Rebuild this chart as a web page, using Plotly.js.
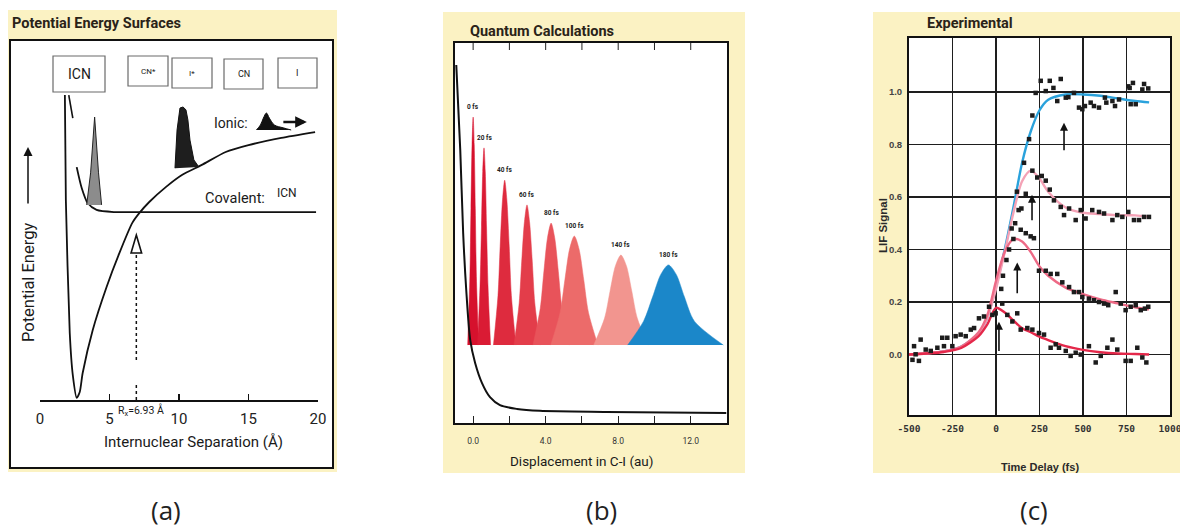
<!DOCTYPE html>
<html><head><meta charset="utf-8">
<script src="https://cdn.plot.ly/plotly-3.0.1.min.js"></script>
<style>html,body{margin:0;padding:0;background:#fff}#chart{width:1180px;height:527px}</style>
</head><body><div id="chart"></div>
<script>
// ===== Panel (a): potential energy surfaces (R in Å, E arbitrary units) =====
const ionicR = [1.79,1.86,2.14,2.36,2.64,2.86,3.07,3.79,4.79,5.71,6.64,7.14,7.86,9.07,10.21,11.64,13.36,15.0,17.36,19.79];
const ionicE = [8.47,5.56,1.86,0.69,0.06,0.22,0.75,1.94,3.14,4.08,4.92,5.19,5.50,5.92,6.25,6.53,6.89,7.08,7.28,7.44];
const covTopR = [2.07,2.36];
const covTopE = [8.47,7.83];
const covR = [2.64,3.0,3.43,4.07,5.36,7.14,11.43,19.86];
const covE = [6.47,5.89,5.47,5.28,5.22,5.22,5.22,5.22];
const groundPacketR = [3.36,3.64,3.93,4.21,4.43];
const groundPacketE = [5.42,6.31,7.86,6.31,5.42];
const excitedPacketR = [9.71,9.86,10.07,10.29,10.5,10.64,10.79,11.07,11.43];
const excitedPacketE = [6.44,7.5,8.11,8.14,8.06,7.78,7.22,6.67,6.47];
const ionicIconR = [15.57,15.86,16.07,16.29,16.5,16.86,17.5,18.07];
const ionicIconE = [7.5,7.64,7.83,7.97,7.83,7.64,7.56,7.5];
const Rx = 6.93;
const xTicksA = [0,5,10,15,20];
const productLabels = ["ICN","CN*","I*","CN","I"];

// ===== Panel (b): quantum wavepackets (displacement in au) =====
const packetTimes = [0,20,40,60,80,100,140,180];
const packetX = [
  [-0.30,-0.18,-0.12,-0.06,0.00,0.06,0.12,0.18,0.30],
  [0.24,0.38,0.46,0.53,0.60,0.67,0.74,0.82,0.96],
  [1.12,1.37,1.49,1.62,1.74,1.86,1.99,2.11,2.36],
  [2.25,2.54,2.68,2.83,2.97,3.11,3.26,3.40,3.69],
  [3.30,3.70,3.90,4.10,4.30,4.50,4.70,4.90,5.30],
  [4.28,4.80,5.06,5.32,5.58,5.84,6.10,6.36,6.88],
  [6.65,7.25,7.55,7.85,8.15,8.45,8.75,9.05,9.65],
  [8.52,9.40,9.90,10.35,10.77,11.20,11.65,12.20,13.80]
];
const packetY = [
  [2.05,3.85,5.65,7.33,8.05,7.33,5.65,3.85,2.05],
  [2.05,3.61,5.16,6.62,7.24,6.62,5.16,3.61,2.05],
  [2.05,3.35,4.65,5.87,6.39,5.87,4.65,3.35,2.05],
  [2.05,3.16,4.26,5.30,5.74,5.30,4.26,3.16,2.05],
  [2.05,3.01,3.98,4.87,5.26,4.87,3.98,3.01,2.05],
  [2.05,2.91,3.77,4.58,4.92,4.58,3.77,2.91,2.05],
  [2.05,2.76,3.47,4.14,4.42,4.14,3.47,2.76,2.05],
  [2.05,2.68,3.32,3.91,4.16,3.91,3.32,2.68,2.05]
];
const potB_x = [-0.93,-0.71,-0.55,-0.38,-0.16,0.11,0.49,0.93,1.48,2.42,3.68,7.36,13.96];
const potB_y = [9.42,7.18,5.0,3.5,2.18,1.58,1.05,0.68,0.47,0.37,0.32,0.29,0.26];
const xTicksB = [0,2,4,6,8,10,12];

// ===== Panel (c): experimental LIF transients (fs) =====
const fitT = [-500,-400,-300,-200,-100,-50,0,50,100,150,200,250,300,400,500,600,700,800,880];
const fit1 = [0.0,0.005,0.012,0.03,0.08,0.14,0.26,0.40,0.56,0.73,0.85,0.93,0.97,0.99,0.99,0.985,0.975,0.965,0.96];
const fit2 = [0.0,0.005,0.012,0.03,0.08,0.14,0.25,0.39,0.54,0.66,0.70,0.67,0.62,0.56,0.54,0.535,0.53,0.53,0.525];
const fit3 = [0.0,0.005,0.012,0.03,0.085,0.15,0.28,0.39,0.44,0.43,0.39,0.335,0.30,0.255,0.23,0.21,0.195,0.18,0.172];
const fit4 = [0.0,0.004,0.01,0.025,0.07,0.115,0.178,0.16,0.13,0.10,0.085,0.068,0.055,0.032,0.018,0.009,0.004,0.002,0.0];
const s1T = [30,60,90,120,161,190,209,228,257,286,309,330,352,372,401,416,448,477,496,511,544,563,592,626,634,669,684,707,760,768,774,787,803,841,851,875];
const s1V = [0.25,0.36,0.48,0.62,0.73,0.82,0.91,0.996,1.042,1.003,1.042,1.015,0.965,1.049,0.978,0.98,0.996,0.94,0.934,0.946,0.959,0.946,0.94,0.978,0.959,0.965,0.946,0.971,1.021,1.015,0.953,1.034,0.953,1.009,1.03,1.013];
const s2T = [110,130,146,171,209,237,263,286,309,333,372,391,420,458,487,515,553,592,621,669,697,726,760,793,822,851,879];
const s2V = [0.50,0.55,0.556,0.612,0.70,0.674,0.68,0.662,0.628,0.587,0.562,0.531,0.556,0.512,0.55,0.518,0.55,0.543,0.537,0.512,0.531,0.524,0.543,0.512,0.512,0.524,0.524];
const s3T = [40,75,100,142,171,199,218,247,286,314,352,381,420,448,477,496,534,563,592,621,645,688,717,745,774,803,832,856,875];
const s3V = [0.30,0.40,0.44,0.475,0.462,0.45,0.443,0.319,0.319,0.307,0.307,0.275,0.257,0.238,0.238,0.219,0.213,0.207,0.2,0.194,0.188,0.238,0.194,0.169,0.182,0.188,0.169,0.175,0.182];
const s4T = [-480,-471,-462,-443,-433,-404,-375,-337,-309,-299,-280,-251,-232,-203,-174,-145,-126,-98,-69,-40,-21,-2,36,65,94,122,142,180,209,247,276,314,343,362,401,429,458,487,534,573,602,640,669,697,745,774,812,841,864];
const s4V = [-0.02,0.032,0.001,-0.024,0.057,0.019,0.014,0.026,0.064,0.032,0.064,0.032,0.07,0.076,0.07,0.095,0.101,0.138,0.145,0.182,0.151,0.157,0.194,0.151,0.126,0.157,0.095,0.101,0.095,0.082,0.076,0.026,0.039,0.026,0.014,-0.005,0.007,0.0,0.032,-0.03,-0.005,0.026,0.057,0.019,-0.024,-0.024,0.026,-0.011,-0.03];
const arrowT = [391,207,122,17];
const arrowFrom = [0.772,0.506,0.228,0.008];
const arrowTo = [0.882,0.608,0.35,0.125];
const xTicksC = [-500,-250,0,250,500,750,1000];
const yTicksC = [0,0.2,0.4,0.6,0.8,1.0];

// ===== styling helpers =====
const W = 1180, H = 527;
const px = v => v / W, py = v => 1 - v / H;
const NARROW = "Roboto,'Liberation Sans',sans-serif";
const SANS = "'Liberation Sans',Arial,sans-serif";
const YEL = '#fbf2c3';
const packetColors = ['#d6112d','#da1b34','#de2b3e','#e33d4a','#e8535a','#ec6b6a','#f2958f','#1b87c9'];

const traces = [];
// panel (a)
traces.push({x: ionicR, y: ionicE, xaxis:'x', yaxis:'y', mode:'lines', line:{color:'#111', width:1.8, shape:'spline', smoothing:0.6}, hoverinfo:'skip'});
traces.push({x: covTopR, y: covTopE, xaxis:'x', yaxis:'y', mode:'lines', line:{color:'#111', width:1.6}, hoverinfo:'skip'});
traces.push({x: covR, y: covE, xaxis:'x', yaxis:'y', mode:'lines', line:{color:'#111', width:1.8, shape:'spline', smoothing:0.7}, hoverinfo:'skip'});
traces.push({x: groundPacketR, y: groundPacketE, xaxis:'x', yaxis:'y', mode:'lines', fill:'toself', fillcolor:'#8c8c8c', line:{color:'#222', width:1}, hoverinfo:'skip'});
traces.push({x: excitedPacketR, y: excitedPacketE, xaxis:'x', yaxis:'y', mode:'lines', fill:'toself', fillcolor:'#1e1e1e', line:{color:'#111', width:1}, hoverinfo:'skip'});
traces.push({x: ionicIconR, y: ionicIconE, xaxis:'x', yaxis:'y', mode:'lines', fill:'toself', fillcolor:'#111', line:{color:'#111', width:1, shape:'spline'}, hoverinfo:'skip'});
// panel (b)
for (let i = 0; i < packetTimes.length; i++) {
  traces.push({x: packetX[i], y: packetY[i], xaxis:'x2', yaxis:'y2', mode:'lines', fill:'toself',
    fillcolor: packetColors[i], line:{color: packetColors[i], width:0.5, shape:'spline', smoothing:0.8}, hoverinfo:'skip'});
}
traces.push({x: potB_x, y: potB_y, xaxis:'x2', yaxis:'y2', mode:'lines', line:{color:'#111', width:2, shape:'spline', smoothing:0.8}, hoverinfo:'skip'});
// panel (c)
const fitColors = ['#2aa2dc','#f4a2b6','#ee6a86','#e4284a'];
[fit1, fit2, fit3, fit4].forEach((f, i) => {
  traces.push({x: fitT, y: f, xaxis:'x3', yaxis:'y3', mode:'lines', line:{color: fitColors[i], width:2.4, shape:'spline', smoothing:0.8}, hoverinfo:'skip'});
});
[[s1T,s1V],[s2T,s2V],[s3T,s3V],[s4T,s4V]].forEach(([t, v]) => {
  traces.push({x: t, y: v, xaxis:'x3', yaxis:'y3', mode:'markers', marker:{symbol:'square', size:4.5, color:'#1c1c1c'}, hoverinfo:'skip'});
});

// ===== shapes =====
const shapes = [];
const rectPx = (x0, y0, x1, y1, fill, lc, lw) => ({type:'rect', xref:'paper', yref:'paper', x0:px(x0), x1:px(x1), y0:py(y1), y1:py(y0), fillcolor:fill, line:{color:lc, width:lw}, layer:'below'});
shapes.push(rectPx(8,10,337,472, YEL, YEL, 0));
shapes.push(rectPx(443,12,745,473, YEL, YEL, 0));
shapes.push(rectPx(873,12,1180,473, YEL, YEL, 0));
shapes.push(rectPx(10,40,333,468, '#fff', '#111', 2));
shapes.push(rectPx(455,43,727,423, '#fff', '#111', 0));
shapes.push(rectPx(909,38,1170,415, '#fff', '#111', 0));
// product label boxes
const boxPx = [[53,56,105,92],[128,56,168,86],[172,58,212,88],[224,59,263,89],[278,58,317,88]];
boxPx.forEach(b => shapes.push(rectPx(b[0], b[1], b[2], b[3], '#fff', '#6a6a6a', 1.2)));
// top mirrored tick marks of panel (b)
xTicksB.forEach(v => shapes.push({type:'line', xref:'x2', yref:'paper', x0:v, x1:v, y0:py(43), y1:py(50), line:{color:'#222', width:1}, layer:'above'}));
// crossing point marker (dotted drop line + hollow arrow head)
shapes.push({type:'line', xref:'x', yref:'y', x0:Rx, x1:Rx, y0:(400-360)/36, y1:(400-253)/36, line:{color:'#111', width:1.5, dash:'dot'}, layer:'above'});
shapes.push({type:'line', xref:'x', yref:'y', x0:Rx, x1:Rx, y0:0, y1:(400-382)/36, line:{color:'#111', width:1.5, dash:'dot'}, layer:'above'});
shapes.push({type:'path', xref:'x', yref:'y', path:`M ${Rx},${(400-235)/36} L ${Rx+0.38},${(400-253)/36} L ${Rx-0.38},${(400-253)/36} Z`, fillcolor:'#fff', line:{color:'#111', width:1.6}, layer:'above'});

// ===== annotations =====
const ann = [];
const txt = (x, y, text, size, opts={}) => Object.assign({xref:'paper', yref:'paper', x:px(x), y:py(y), text, showarrow:false,
  font:{family: NARROW, size, color:'#1a1a1a'}, xanchor:'center', yanchor:'middle'}, opts);
// titles
const TF = {family:NARROW, size:14.5, color:'#2a2318', weight:'bold'};
ann.push(txt(10, 24, '<b>Potential Energy Surfaces</b>', 14, {xanchor:'left', font:TF}));
ann.push(txt(468, 31, '<b>Quantum Calculations</b>', 14, {xanchor:'left', font:TF}));
ann.push(txt(925, 23, '<b>Experimental</b>', 14, {xanchor:'left', font:TF}));
// panel (a) texts
const labelPos = [[79,74,14],[148,71,8],[192,73,8],[244,74,9],[297,73,9]];
productLabels.forEach((s, i) => ann.push(txt(labelPos[i][0], labelPos[i][1], s, labelPos[i][2])));
ann.push(txt(231, 123, 'Ionic:', 14));
ann.push(txt(235, 198, 'Covalent:', 14.5));
ann.push(txt(287, 193, 'ICN', 12));
ann.push(txt(193, 442, 'Internuclear Separation (Å)', 15));
ann.push(txt(28, 283, 'Potential Energy', 16.5, {textangle:-90}));
ann.push(txt(141, 410, 'R<sub>x</sub>=6.93 Å', 10.5));
ann.push({xref:'paper', yref:'paper', x:px(28), y:py(147), ax:0, ay:58, showarrow:true, arrowhead:2, arrowsize:1.2, arrowwidth:1.5, arrowcolor:'#111', text:''});
ann.push({xref:'x', yref:'y', x:19.2, y:(400-122)/36, axref:'x', ayref:'y', ax:17.4, ay:(400-122)/36, showarrow:true, arrowhead:2, arrowsize:0.9, arrowwidth:2.6, arrowcolor:'#111', text:''});
// panel (b) texts
packetTimes.forEach((t, i) => ann.push({xref:'x2', yref:'y2', x: packetX[i][4], y: packetY[i][4], yshift:10, text:'<b>'+t+' fs</b>', showarrow:false,
  font:{family:NARROW, size:6.5, color:'#222'}}));
ann.push(txt(582, 461, 'Displacement in C-I (au)', 13.5));
// panel (c) texts
ann.push(txt(883, 226, '<b>LIF Signal</b>', 12, {textangle:-90, font:{family:SANS, size:11.5, color:'#2a2a2a'}}));
ann.push(txt(1040, 467, '<b>Time Delay (fs)</b>', 12, {font:{family:SANS, size:11, color:'#2a2a2a'}}));
arrowT.forEach((t, i) => ann.push({xref:'x3', yref:'y3', axref:'x3', ayref:'y3', x:t, y:arrowTo[i], ax:t, ay:arrowFrom[i],
  showarrow:true, arrowhead:2, arrowsize:1, arrowwidth:1.6, arrowcolor:'#111', text:''}));
// panel captions
['(a)','(b)','(c)'].forEach((s, i) => ann.push(txt([166,601,1034][i], 510, s, 26, {font:{family:"'Open Sans',sans-serif", size:26, color:'#222'}})));

const layout = {
  width: W, height: H, margin:{l:0, r:0, t:0, b:0},
  paper_bgcolor:'#fff', plot_bgcolor:'rgba(0,0,0,0)', showlegend:false,
  xaxis: {domain:[px(40), px(318)], range:[0,20], anchor:'y', showline:true, linecolor:'#111', linewidth:1.8,
    ticks:'inside', ticklen:6, tickwidth:1.5, tickcolor:'#111', tickvals:xTicksA, showgrid:false, zeroline:false,
    tickfont:{family:NARROW, size:15, color:'#222'}, ticklabelstandoff:4},
  yaxis: {domain:[py(400), py(40)], range:[0,10], anchor:'x', visible:false},
  xaxis2: {domain:[px(455), px(727)], range:[-1,14], anchor:'y2', showline:true, mirror:true, linecolor:'#111', linewidth:2,
    tickmode:'linear', tick0:0, dtick:4, tickformat:'.1f',
    ticks:'inside', ticklen:7, tickwidth:1, tickcolor:'#222', showgrid:false, zeroline:false,
    minor:{tickmode:'linear', tick0:0, dtick:2, ticks:'inside', ticklen:7, tickwidth:1, tickcolor:'#222', showgrid:false},
    tickfont:{family:NARROW, size:8.5, color:'#333'}, ticklabelstandoff:9},
  yaxis2: {domain:[py(423), py(43)], range:[0,10], anchor:'x2', showline:true, mirror:true, linecolor:'#111', linewidth:2,
    showticklabels:false, ticks:'', showgrid:false, zeroline:false},
  xaxis3: {domain:[px(909), px(1170)], range:[-500,1000], anchor:'y3', showline:true, mirror:true, linecolor:'#111', linewidth:2,
    tickvals:xTicksC, ticktext:xTicksC.map(String), showgrid:true, gridcolor:'#1e1e1e', gridwidth:1.5, zeroline:false, ticks:'',
    ticklabeloverflow:'allow',
    tickfont:{family:"'DejaVu Sans Mono',monospace", size:9.5, color:'#333', weight:'bold'}, ticklabelstandoff:4},
  yaxis3: {domain:[py(415), py(38)], range:[-0.23,1.205], anchor:'x3', showline:true, mirror:true, linecolor:'#111', linewidth:2,
    tickvals:yTicksC, ticktext:yTicksC.map(v => v.toFixed(1)), showgrid:true, gridcolor:'#1e1e1e', gridwidth:1.5, zeroline:false, ticks:'',
    tickfont:{family:SANS, size:9.5, color:'#444', weight:'bold'}, ticklabelstandoff:3},
  shapes, annotations: ann
};
Plotly.newPlot('chart', traces, layout, {staticPlot:true, displayModeBar:false});
</script></body></html>
